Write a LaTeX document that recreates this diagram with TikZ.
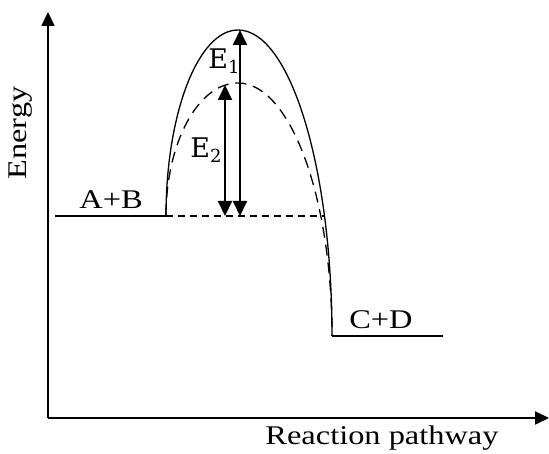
\documentclass[tikz,border=0pt]{standalone}
\usepackage{fontspec}
\setmainfont[FakeStretch=1.2]{Liberation Serif}
\newfontfamily\efont{DejaVu Serif}
\usetikzlibrary{arrows.meta}
\begin{document}
\begin{tikzpicture}[x=1pt,y=1pt,
  lbl/.style={inner sep=0pt,font=\fontsize{27}{30}\selectfont},
  elbl/.style={inner sep=0pt,font=\efont\fontsize{27}{30}\selectfont},
  axis/.style={line width=1.8pt,-{Triangle[width=13pt,length=14pt]}},
  lvl/.style={line width=1.6pt},
  ea/.style={line width=2pt,{Triangle[width=14pt,length=15pt]}-{Triangle[width=14pt,length=15pt]}},
  curve/.style={line width=1.3pt}]
\useasboundingbox (0,0) rectangle (549,454);
% axes
\coordinate (O) at (48,36);
\coordinate (Ytop) at (48,442);
\coordinate (Xend) at (549,36);
\draw[axis] (O) -- (Ytop);
\draw[axis] (O) -- (Xend);
\node[lbl,rotate=90] (ylab) at (21,321) {Energy};
\node[lbl] (xlab) at (382,16) {Reaction pathway};
% levels
\coordinate (ABs) at (55,238);
\coordinate (ABe) at (166,238);
\coordinate (CDs) at (332,118);
\coordinate (CDe) at (443,118);
\draw[lvl] (ABs) -- (ABe);
\draw[lvl] (CDs) -- (CDe);
\node[lbl] (ab) at (111,254) {A+B};
\node[lbl] (cd) at (381,134) {C+D};
% curves
\draw[curve] (ABe) arc[start angle=180,end angle=90,x radius=72,y radius=186]
  coordinate (P1) arc[start angle=90,end angle=0,x radius=94,y radius=306];
\draw[curve,dash pattern=on 11pt off 7pt] (ABe) arc[start angle=180,end angle=90,x radius=72,y radius=133]
  coordinate (P2) arc[start angle=90,end angle=0,x radius=94,y radius=253];
% dashed baseline
\coordinate (Dend) at (325,238);
\draw[line width=1.3pt,dash pattern=on 7pt off 5pt] (ABe) -- (Dend);
% energy arrows
\coordinate (E1t) at (240,424);
\coordinate (E1b) at (240,238);
\coordinate (E2t) at (225,369);
\coordinate (E2b) at (225,238);
\draw[ea] (E1b) -- (E1t);
\draw[ea] (E2b) -- (E2t);
\node[elbl] (e1) at (224,393) {E\raisebox{-0.35ex}{\fontsize{18}{20}\selectfont 1}};
\node[elbl] (e2) at (206,304) {E\raisebox{-0.35ex}{\fontsize{18}{20}\selectfont 2}};
\end{tikzpicture}
\end{document}
